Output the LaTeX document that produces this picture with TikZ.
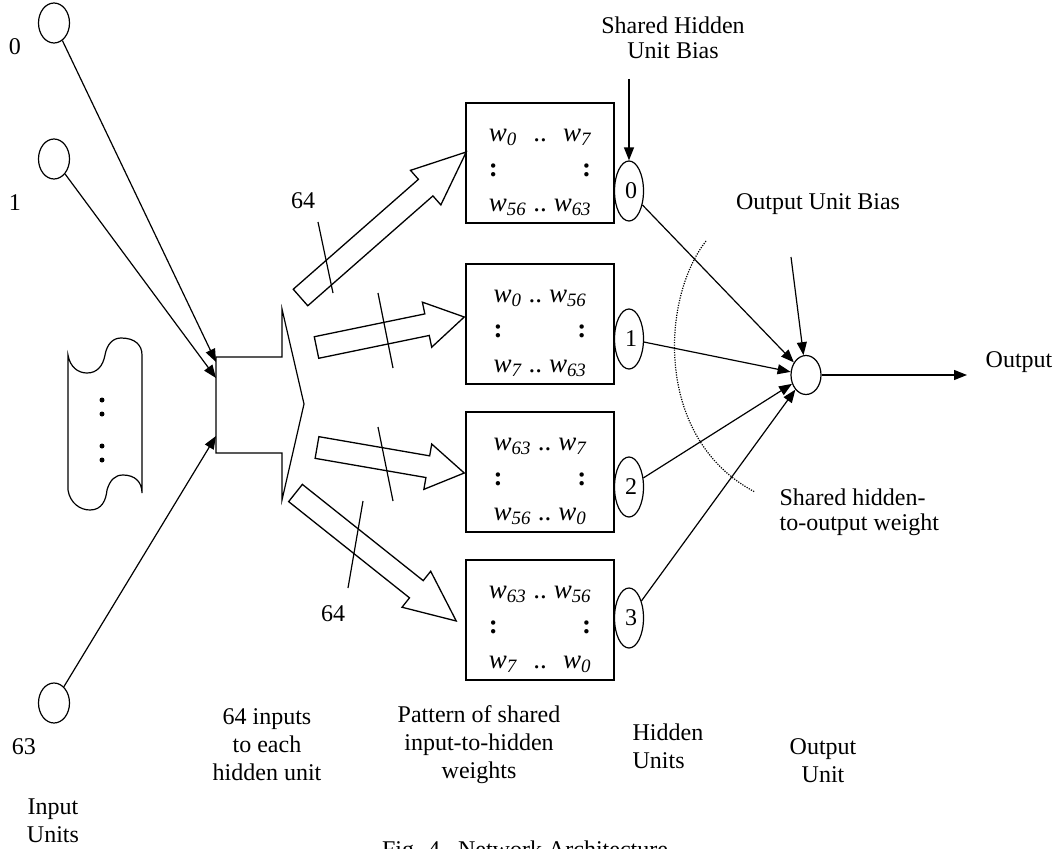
\documentclass[tikz,border=0pt]{standalone}
\usepackage{fontspec}
\setmainfont{Liberation Serif}
\usepackage{tikz}
\usetikzlibrary{
  positioning,
  arrows.meta,
  calc,
  shapes.geometric
}

% 权值矩阵内容
\newcommand{\wmat}[4]{%
  \begin{tabular}{@{}l@{\hspace{7pt}}c@{\hspace{7pt}}r@{}}
    \textit{w\textsubscript{#1}} & .. & \textit{w\textsubscript{#2}}\\[4pt]
    \textbf{:} & & \textbf{:}\\[4pt]
    \textit{w\textsubscript{#3}} & .. & \textit{w\textsubscript{#4}}
  \end{tabular}}

% 空心粗箭头: 尾, 尖, 箭头长度
\newcommand{\fatarrow}[3]{%
  \coordinate (fh) at ($(#2)!#3!(#1)$);
  \draw[fat] ($(#1)!11pt!90:(#2)$) -- ($(fh)!11pt!90:(#2)$) -- ($(fh)!23pt!90:(#2)$)
    -- (#2) -- ($(fh)!23pt!-90:(#2)$) -- ($(fh)!11pt!-90:(#2)$) -- ($(#1)!11pt!-90:(#2)$) -- cycle;}

\begin{document}
\begin{tikzpicture}[
    x=1pt, y=-1pt,
    > = {Triangle[length=13pt, width=10pt]},
    font=\fontsize{24}{28}\selectfont,
    line width=1.2pt,
    inunit/.style={ellipse, draw, minimum width=31pt, minimum height=40pt, inner sep=0pt},
    hunit/.style={ellipse, draw, minimum width=29pt, minimum height=60pt, inner sep=0pt},
    ounit/.style={ellipse, draw, minimum width=30pt, minimum height=39pt, inner sep=0pt},
    wbox/.style={draw, line width=1.5pt, minimum width=148pt, minimum height=120pt, inner sep=0pt},
    wtext/.style={inner sep=0pt, font=\fontsize{27}{31}\selectfont},
    fat/.style={line width=1.3pt},
    lbl/.style={align=center, inner sep=0pt}
]
    \useasboundingbox (0,0) rectangle (1059,848);

    % 输入单元
    \node[inunit] (in0) at (54,23) {};
    \node[inunit] (in1) at (54,159) {};
    \node[inunit] (in63) at (54,703) {};
    \node[lbl] (l0) at (15,47) {0};
    \node[lbl] (l1) at (15,203) {1};
    \node[lbl] (l63) at (24,747) {63};

    % 省略的输入
    \draw (68,355) -- (68,490)
      .. controls (70,503) and (80,510) .. (90,510)
      .. controls (102,510) and (106,500) .. (107,490)
      .. controls (110,480) and (115,475) .. (123,475)
      .. controls (135,475) and (142,482) .. (142,493)
      -- (142,355)
      .. controls (142,345) and (135,338) .. (121,338)
      .. controls (113,338) and (107,344) .. (105,355)
      .. controls (103,366) and (97,373) .. (87,373)
      .. controls (78,373) and (70,367) .. (68,355) -- cycle;
    \foreach \y in {400,414,446,460}
      \fill (102,\y) circle (2.5pt);

    % 64 路汇合
    \draw (216,357) -- (282,357) -- (282,309) -- (304,404) -- (282,500) -- (282,453) -- (216,453) -- cycle;
    \coordinate (fan0) at (216,362);
    \coordinate (fan1) at (216,378);
    \coordinate (fan63) at (216,436);
    \draw[->] (in0) -- (fan0);
    \draw[->] (in1) -- (fan1);
    \draw[->] (in63) -- (fan63);

    % 共享权值
    \node[wbox] (b0) at (540,163) {};
    \node[wbox] (b1) at (540,324) {};
    \node[wbox] (b2) at (540,472) {};
    \node[wbox] (b3) at (540,620) {};
    \node[wtext] (w0) at ($(b0.center)+(0,7)$) {\wmat{0}{7}{56}{63}};
    \node[wtext] (w1) at ($(b1.center)+(0,7)$) {\wmat{0}{56}{7}{63}};
    \node[wtext] (w2) at ($(b2.center)+(0,7)$) {\wmat{63}{7}{56}{0}};
    \node[wtext] (w3) at ($(b3.center)+(0,7)$) {\wmat{63}{56}{7}{0}};

    \coordinate (ft0) at (300.5,297.5);
    \coordinate (ft1) at (316.5,347.5);
    \coordinate (ft2) at (317,447.5);
    \coordinate (ft3) at (295.5,493);
    \coordinate (fp0) at ($(b0.west)+(1,-11)$);
    \coordinate (fp1) at ($(b1.west)+(-1,-7)$);
    \coordinate (fp2) at ($(b2.west)+(-1,1)$);
    \coordinate (fp3) at ($(b3.west)+(-9,1)$);
    \fatarrow{ft0}{fp0}{54pt}
    \fatarrow{ft1}{fp1}{38pt}
    \fatarrow{ft2}{fp2}{37pt}
    \fatarrow{ft3}{fp3}{51pt}

    \draw (318,222) -- (333,293);
    \draw (378,293) -- (393,368);
    \draw (378,427) -- (393,501);
    \draw (363,501) -- (348,588);
    \node[lbl] (n64a) at (303,201) {64};
    \node[lbl] (n64b) at (333,614) {64};

    % 隐藏单元与输出单元
    \node[hunit] (h0) at (629,191) {\hspace{4pt}0};
    \node[hunit] (h1) at (629,339) {\hspace{4pt}1};
    \node[hunit] (h2) at (629,487) {\hspace{4pt}2};
    \node[hunit] (h3) at (629,618) {\hspace{4pt}3};
    \node[ounit] (out) at (806,375) {};

    \coordinate (hb) at (629,79);
    \coordinate (ob) at (791,257);
    \coordinate (oend) at (967,375);
    \draw[->] (hb) -- (h0);
    \draw[->] (ob) -- (out);
    \draw[->] (out) -- (oend);
    \foreach \h in {h0,h1,h2,h3}
      \draw[->] (\h) -- (out);

    \draw[dash pattern=on 1.2pt off 1.3pt, line width=1.2pt] (706,241) .. controls (660,300) and (655,440) .. (755,492);

    % 文字说明
    \node[lbl, font=\fontsize{24}{25}\selectfont] (thb) at (673,38) {Shared Hidden\\Unit Bias};
    \node[lbl] (tob) at (818,204) {Output Unit Bias};
    \node[lbl] (tout) at (1019,362) {Output};
    \node[lbl, align=left, anchor=west, font=\fontsize{24}{25}\selectfont] (tsw) at (779,512) {Shared hidden-\\to-output weight};

    \node[lbl] (tin) at (53,821) {Input\\Units};
    \node[lbl] (t64) at (267,745) {64 inputs\\to each\\hidden unit};
    \node[lbl] (tpat) at (479,745) {Pattern of shared\\input-to-hidden\\weights};
    \node[lbl, align=left, anchor=west] (thid) at (632,746) {Hidden\\Units};
    \node[lbl] (toutu) at (823,761) {Output\\Unit};
    \node[lbl, anchor=base] (fig) at (525,857) {Fig. 4.\ \ Network Architecture};
\end{tikzpicture}
\end{document}
